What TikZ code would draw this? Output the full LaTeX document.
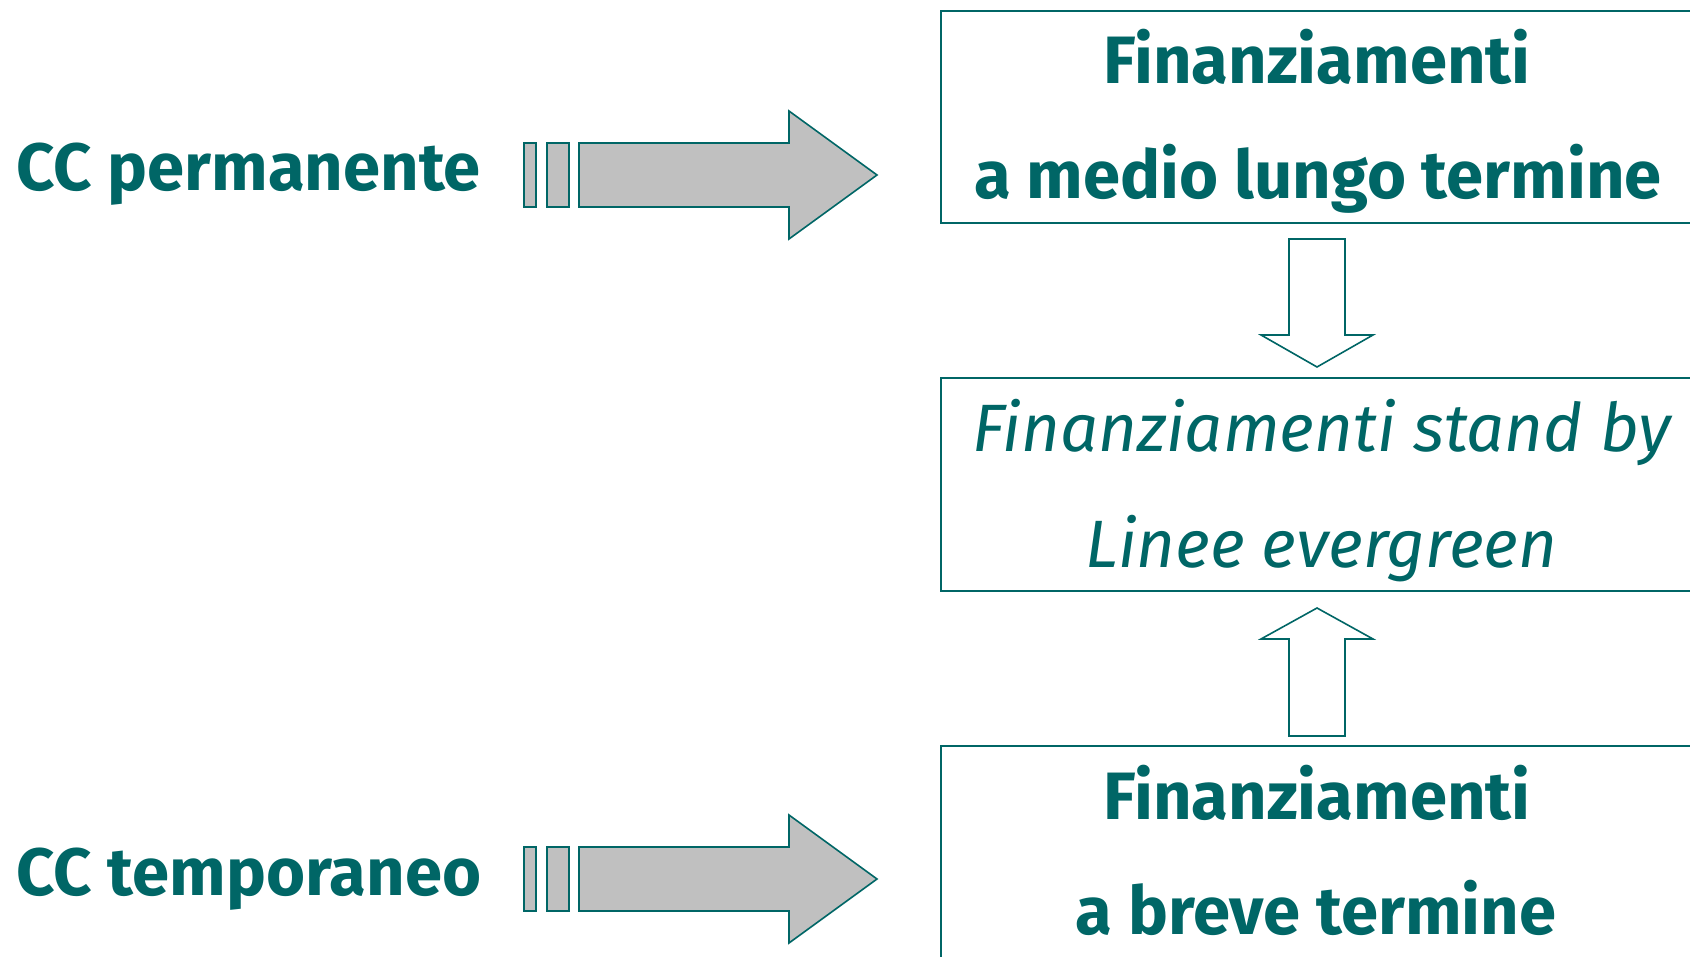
\documentclass[tikz,border=0pt]{standalone}
\usepackage{fontspec}
\setmainfont{Fira Sans}
\definecolor{teal}{HTML}{006666}
\definecolor{arrowgray}{HTML}{C0C0C0}
\tikzset{
  lbl/.style={text=teal, font=\fontsize{67}{80}\selectfont\bfseries, inner sep=0pt},
  itlbl/.style={text=teal, font=\fontsize{67}{80}\selectfont\itshape, inner sep=0pt},
  boxline/.style={draw=teal, line width=1.6pt},
  blockarrow/.style={draw=teal, line width=1.6pt, fill=arrowgray, line join=miter},
  hollowarrow/.style={draw=teal, line width=1.6pt, fill=white, line join=miter}
}
\begin{document}
\begin{tikzpicture}[x=1pt,y=-1pt]
\useasboundingbox (0,0) rectangle (1690,957);
\fill[white] (0,0) rectangle (1690,957);
% boxes
\draw[boxline] (1697,11) -- (941,11) -- (941,223) -- (1697,223);
\draw[boxline] (1697,378) -- (941,378) -- (941,591) -- (1697,591);
\draw[boxline] (1697,746) -- (941,746) -- (941,962);
% vertical hollow arrows
\draw[hollowarrow] (1289,239) -- (1345,239) -- (1345,335) -- (1373,335) -- (1317,367) -- (1261,335) -- (1289,335) -- cycle;
\draw[hollowarrow] (1289,736) -- (1345,736) -- (1345,639) -- (1373,639) -- (1317,608) -- (1261,639) -- (1289,639) -- cycle;
% block arrows
\foreach \dy in {0,704} {
  \begin{scope}[yshift=-\dy pt]
    \draw[blockarrow] (524,143) rectangle (536,207);
    \draw[blockarrow] (547,143) rectangle (569,207);
    \draw[blockarrow] (579,143) -- (789,143) -- (789,111) -- (877,175) -- (789,239) -- (789,207) -- (579,207) -- cycle;
  \end{scope}
}
% texts
\node[lbl, anchor=base west] (perm) at (16,191) {CC permanente};
\node[lbl, anchor=base west] (temp) at (16,895) {CC temporaneo};
\node[lbl, anchor=base] (t1) at (1317,84) {Finanziamenti};
\node[lbl, anchor=base] (t2) at (1318,199) {a medio lungo termine};
\node[itlbl, anchor=base] (m1) at (1322,452) {Finanziamenti stand by};
\node[itlbl, anchor=base] (m2) at (1321,567) {Linee evergreen};
\node[lbl, anchor=base] (b1) at (1317,819) {Finanziamenti};
\node[lbl, anchor=base] (b2) at (1316,934) {a breve termine};
\end{tikzpicture}
\end{document}
